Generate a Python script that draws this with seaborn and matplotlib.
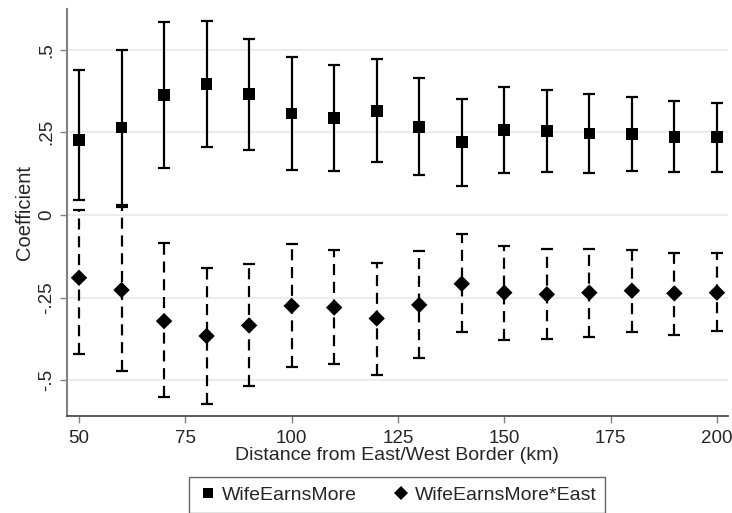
import numpy as np
import pandas as pd
import matplotlib
matplotlib.use("Agg")
import matplotlib.pyplot as plt
import seaborn as sns

# --- DADOS ---
distancias = [50, 60, 70, 80, 90, 100, 110, 120, 130, 140, 150, 160, 170, 180, 190, 200]

coef_wife = [0.227, 0.264, 0.362, 0.396, 0.365, 0.307, 0.294, 0.315, 0.266, 0.220,
             0.257, 0.254, 0.246, 0.244, 0.236, 0.236]
sup_wife = [0.438, 0.499, 0.583, 0.587, 0.532, 0.477, 0.454, 0.472, 0.413, 0.352,
            0.387, 0.379, 0.365, 0.357, 0.345, 0.338]
inf_wife = [0.045, 0.030, 0.143, 0.207, 0.196, 0.137, 0.134, 0.160, 0.122, 0.088,
            0.127, 0.129, 0.127, 0.132, 0.129, 0.129]

coef_east = [-0.190, -0.227, -0.321, -0.366, -0.334, -0.275, -0.280, -0.313, -0.272, -0.208,
             -0.235, -0.240, -0.235, -0.229, -0.237, -0.235]
sup_east = [0.015, 0.023, -0.086, -0.159, -0.149, -0.088, -0.105, -0.145, -0.108, -0.058,
            -0.093, -0.104, -0.104, -0.105, -0.115, -0.115]
inf_east = [-0.421, -0.473, -0.551, -0.571, -0.517, -0.460, -0.451, -0.483, -0.432, -0.355,
            -0.378, -0.376, -0.369, -0.355, -0.362, -0.352]

rotulos_y = [".5", ".25", "0", "-.25", "-.5"]
valores_y = [0.5, 0.25, 0, -0.25, -0.5]
# --------------------

df = pd.concat([
    pd.DataFrame({'dist': distancias, 'coef': coef_wife, 'inf': inf_wife, 'sup': sup_wife,
                  'serie': 'WifeEarnsMore'}),
    pd.DataFrame({'dist': distancias, 'coef': coef_east, 'inf': inf_east, 'sup': sup_east,
                  'serie': 'WifeEarnsMore*East'}),
])

sns.set_style("white")
plt.rcParams['font.family'] = ['Liberation Sans', 'DejaVu Sans']

fig = plt.figure(figsize=(7.32, 5.13), dpi=100)
ax = fig.add_axes([0.0911, 0.1897, 0.9034, 0.7928])

# grade horizontal
for v in valores_y:
    ax.axhline(v, color='#e6eff0', lw=1.5, zorder=0)

# intervalos de confiança
estilos = {'WifeEarnsMore': '-', 'WifeEarnsMore*East': (0, (5, 3))}
for serie, grupo in df.groupby('serie'):
    err = [grupo['coef'] - grupo['inf'], grupo['sup'] - grupo['coef']]
    cont = ax.errorbar(grupo['dist'], grupo['coef'], yerr=err, fmt='none',
                       ecolor='black', elinewidth=1.6, capsize=4.5, capthick=1.6, zorder=2)
    for lc in cont[2]:
        lc.set_linestyle(estilos[serie])

# pontos
sns.scatterplot(data=df, x='dist', y='coef', style='serie',
                markers={'WifeEarnsMore': 's', 'WifeEarnsMore*East': 'D'},
                color='black', s=70, edgecolor='black', linewidth=0, ax=ax, zorder=3)

ax.set_xlim(47.1, 202.6)
ax.set_ylim(-0.607, 0.623)
ax.set_xticks([50, 75, 100, 125, 150, 175, 200])
ax.set_yticks(valores_y)
ax.set_yticklabels(rotulos_y, rotation=90, va='center')
ax.tick_params(axis='both', labelsize=13.5, length=5, width=1, color='#808080',
               direction='out', pad=3, left=True, bottom=True)
ax.tick_params(axis='x', pad=5)

for lado in ['top', 'right']:
    ax.spines[lado].set_visible(False)
ax.spines['left'].set_color('#808080')
ax.spines['left'].set_linewidth(1.5)
ax.spines['bottom'].set_color('#404040')
ax.spines['bottom'].set_linewidth(1.2)

ax.set_xlabel('Distance from East/West Border (km)', fontsize=14, labelpad=0)
ax.set_ylabel('Coefficient', fontsize=14.5, labelpad=3)

handles, labels = ax.get_legend_handles_labels()
ax.legend_.remove() if ax.legend_ else None
leg = fig.legend(handles, labels, loc='center', bbox_to_anchor=(0.543, 0.035), ncol=2,
                 fontsize=14, frameon=True, fancybox=False, edgecolor='#404040',
                 handletextpad=0.2, columnspacing=1.8, borderpad=0.45, handlelength=1.0,
                 markerscale=0.85)
leg.get_frame().set_linewidth(1.0)

plt.savefig('out.png', dpi=100)
plt.close()
